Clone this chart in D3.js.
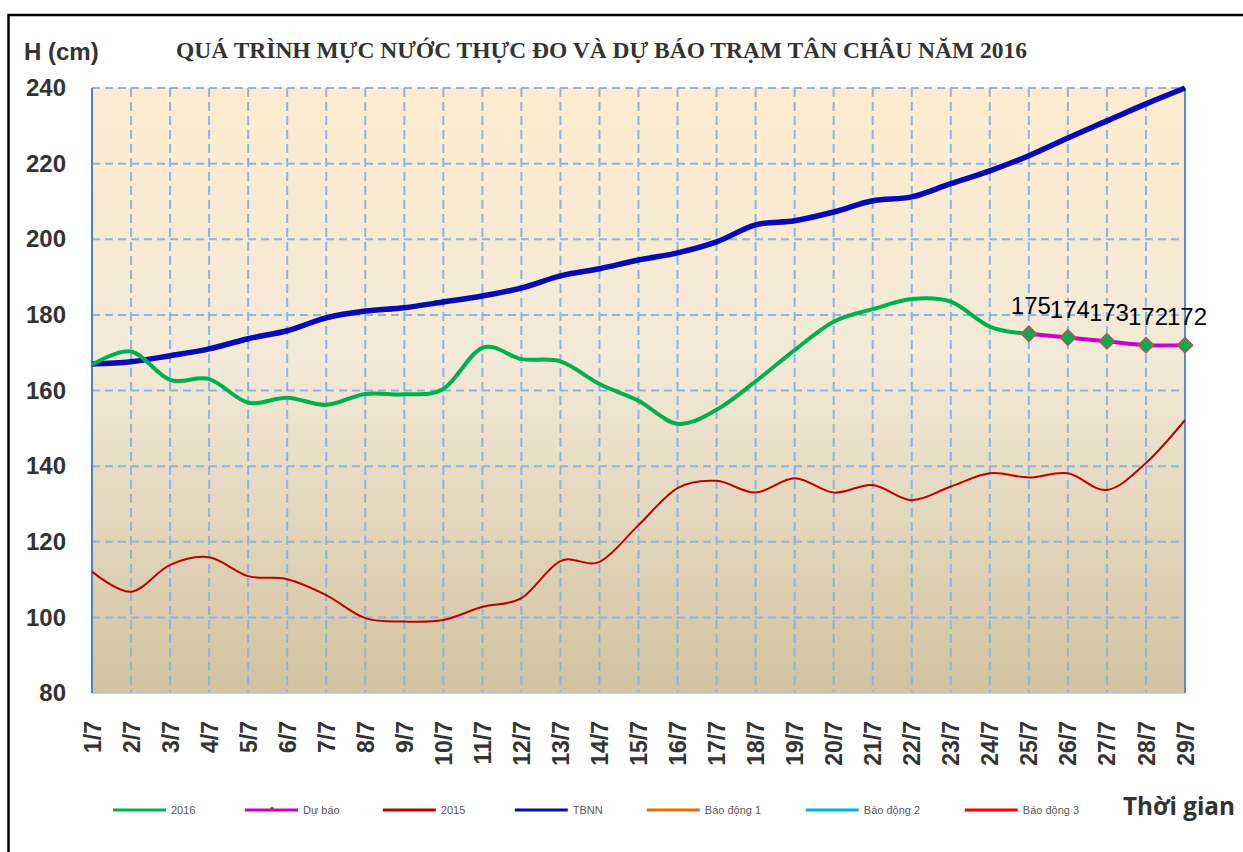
<!DOCTYPE html>
<html>
<head>
<meta charset="utf-8">
<script src="https://cdn.jsdelivr.net/npm/d3@7"></script>
<style>
  body { margin: 0; background: #fff; }
</style>
</head>
<body>
<svg width="1243" height="852"></svg>
<script>
// Days of July on the x axis
const dates = ['1/7','2/7','3/7','4/7','5/7','6/7','7/7','8/7','9/7','10/7','11/7','12/7','13/7','14/7','15/7',
  '16/7','17/7','18/7','19/7','20/7','21/7','22/7','23/7','24/7','25/7','26/7','27/7','28/7','29/7']

// Water level (cm)
const level2016 = [166.8, 170.3, 162.8, 163, 156.8, 158.1, 156.2, 159.1, 159, 160.4, 171.3, 168.3, 167.7, 161.7,
  157.3, 151.2, 154.9, 162.4, 170.7, 178.2, 181.5, 184.2, 183.5, 176.9, 175]
const forecastDates = ['25/7','26/7','27/7','28/7','29/7']
const forecast = [175, 174, 173, 172, 172]
const level2015 = [112.1, 106.8, 113.9, 115.9, 110.9, 110.1, 105.9, 99.8, 98.9, 99.3, 102.8, 105.1, 114.9, 114.7,
  124.4, 134.2, 136.1, 133, 136.8, 133, 135, 131, 134.6, 138.1, 137, 138.1, 133.7, 140.8, 152.2]
const tbnn = [167, 167.6, 169.2, 171, 173.7, 175.8, 179.2, 181, 181.9, 183.4, 185, 187.1, 190.3, 192.2, 194.5,
  196.4, 199.3, 203.8, 204.9, 207.2, 210.2, 211.2, 214.7, 218.1, 222.1, 226.8, 231.3, 235.8, 240]

const yTicks = [80, 100, 120, 140, 160, 180, 200, 220, 240]
const legendNames = ['2016', 'Dự báo', '2015', 'TBNN', 'Báo động 1', 'Báo động 2', 'Báo động 3']
const legendColors = ['#00b050', '#cc00cc', '#c00000', '#0a0ab4', '#e46c0a', '#00b0f0', '#ff0000']

const svg = d3.select('svg')
const width = +svg.attr('width')
const height = +svg.attr('height')

// plot area box
const plot = {left: 92, right: 1185, top: 88, bottom: 693}

const xScale = d3.scalePoint().domain(dates).range([plot.left, plot.right])
const yScale = d3.scaleLinear().domain([80, 240]).range([plot.bottom, plot.top])

// outer frame (runs off the right and bottom of the picture)
svg.append('rect')
  .attr('x', 8.5).attr('y', 15)
  .attr('width', width + 20).attr('height', height + 20)
  .attr('fill', 'none').attr('stroke', '#000').attr('stroke-width', 2.5)

// background gradient of the plot
const grad = svg.append('defs').append('linearGradient')
  .attr('id', 'bg').attr('x1', 0).attr('y1', 0).attr('x2', 0).attr('y2', 1)
grad.append('stop').attr('offset', 0).attr('stop-color', '#fdebcf')
grad.append('stop').attr('offset', 0.45).attr('stop-color', '#f2ead7')
grad.append('stop').attr('offset', 1).attr('stop-color', '#d2c29e')

svg.append('rect')
  .attr('x', plot.left).attr('y', plot.top)
  .attr('width', plot.right - plot.left).attr('height', plot.bottom - plot.top)
  .attr('fill', 'url(#bg)')

// dashed grid
const grid = svg.append('g').attr('stroke', '#8db4e2').attr('stroke-width', 2)
grid.selectAll('.hg').data(yTicks.filter(v => v > 80)).enter().append('line')
  .attr('x1', plot.left).attr('x2', plot.right)
  .attr('y1', d => yScale(d)).attr('y2', d => yScale(d))
  .attr('stroke-dasharray', '8,5')
grid.selectAll('.vg').data(dates.slice(1, -1)).enter().append('line')
  .attr('x1', d => xScale(d)).attr('x2', d => xScale(d))
  .attr('y1', plot.top).attr('y2', plot.bottom)
  .attr('stroke-dasharray', '9,5')

// plot borders
svg.append('line').attr('x1', plot.left).attr('x2', plot.right)
  .attr('y1', plot.bottom).attr('y2', plot.bottom)
  .attr('stroke', '#b4c3d8').attr('stroke-width', 1.5)
svg.append('line').attr('x1', plot.left).attr('x2', plot.left)
  .attr('y1', plot.top).attr('y2', plot.bottom)
  .attr('stroke', '#4f81bd').attr('stroke-width', 2)
svg.append('line').attr('x1', plot.right).attr('x2', plot.right)
  .attr('y1', plot.top).attr('y2', plot.bottom)
  .attr('stroke', '#5b8bd0').attr('stroke-width', 2)

// y axis labels
const yAxis = svg.append('g')
  .attr('transform', `translate(${plot.left},0)`)
  .call(d3.axisLeft(yScale).tickValues(yTicks).tickSize(0).tickPadding(26))
yAxis.select('.domain').remove()
yAxis.selectAll('text')
  .attr('font-family', 'Liberation Sans, Arial, sans-serif')
  .attr('font-weight', 'bold').attr('font-size', 24).attr('fill', '#333')

// x axis labels, turned upright
const xAxis = svg.append('g')
  .attr('transform', `translate(0,${plot.bottom})`)
  .call(d3.axisBottom(xScale).tickSize(0))
xAxis.select('.domain').remove()
xAxis.selectAll('text')
  .attr('transform', 'rotate(-90)')
  .attr('text-anchor', 'end')
  .attr('x', -28).attr('y', 0).attr('dy', '0.35em')
  .attr('font-family', 'Liberation Sans, Arial, sans-serif')
  .attr('font-weight', 'bold').attr('font-size', 23).attr('fill', '#333')

// smoothed lines like the spreadsheet chart
const line = d3.line()
  .x(d => xScale(d[0]))
  .y(d => yScale(d[1]))
  .curve(d3.curveCatmullRom.alpha(0))

const pairs = (keys, vals) => vals.map((v, i) => [keys[i], v])

svg.append('path').datum(pairs(dates, level2015))
  .attr('d', line).attr('fill', 'none').attr('stroke', '#c00000').attr('stroke-width', 2)
svg.append('path').datum(pairs(dates, tbnn))
  .attr('d', line).attr('fill', 'none').attr('stroke', '#0a0ab4').attr('stroke-width', 5.5)
svg.append('path').datum(pairs(dates, level2016))
  .attr('d', line).attr('fill', 'none').attr('stroke', '#00b050').attr('stroke-width', 4)
svg.append('path').datum(pairs(forecastDates, forecast))
  .attr('d', line).attr('fill', 'none').attr('stroke', '#cc00cc').attr('stroke-width', 4)

// forecast markers with value labels
const fc = pairs(forecastDates, forecast)
svg.selectAll('.mk').data(fc).enter().append('path')
  .attr('d', d3.symbol(d3.symbolDiamond2, 150))
  .attr('transform', d => `translate(${xScale(d[0])},${yScale(d[1])})`)
  .attr('fill', '#00b050').attr('stroke', '#c0504d').attr('stroke-width', 1.5)
svg.selectAll('.lb').data(fc).enter().append('text')
  .attr('x', d => xScale(d[0]) + 2)
  .attr('y', d => yScale(d[1]) - 20)
  .attr('text-anchor', 'middle')
  .attr('font-family', 'Liberation Sans, Arial, sans-serif')
  .attr('font-size', 24).attr('fill', '#000')
  .text(d => d[1])

// titles
svg.append('text')
  .attr('x', 24).attr('y', 60)
  .attr('font-family', 'Liberation Sans, Arial, sans-serif')
  .attr('font-weight', 'bold').attr('font-size', 24).attr('fill', '#333')
  .text('H (cm)')
svg.append('text')
  .attr('x', 176).attr('y', 58)
  .attr('font-family', 'Liberation Serif, Times New Roman, serif')
  .attr('font-weight', 'bold').attr('font-size', 23).attr('fill', '#333')
  .attr('textLength', 851).attr('lengthAdjust', 'spacingAndGlyphs')
  .text('QUÁ TRÌNH MỰC NƯỚC THỰC ĐO VÀ DỰ BÁO TRẠM TÂN CHÂU NĂM 2016')
svg.append('text')
  .attr('x', 1235).attr('y', 815)
  .attr('text-anchor', 'end')
  .attr('font-family', 'Open Sans, sans-serif')
  .attr('font-weight', 'bold').attr('font-size', 25).attr('fill', '#333')
  .attr('textLength', 112).attr('lengthAdjust', 'spacingAndGlyphs')
  .text('Thời gian')

// legend along the bottom, each slot sized from its label
let lx = 113
legendNames.forEach((name, i) => {
  const g = svg.append('g').attr('transform', `translate(${lx},810)`)
  g.append('line').attr('x1', 0).attr('x2', 53).attr('y1', 0).attr('y2', 0)
    .attr('stroke', legendColors[i]).attr('stroke-width', 3)
  if (name === 'Dự báo') {
    g.append('circle').attr('cx', 27).attr('cy', -1.5).attr('r', 1.8).attr('fill', '#a0403d')
  }
  g.append('text').attr('x', 58).attr('y', 4)
    .attr('font-family', 'Liberation Sans, Arial, sans-serif')
    .attr('font-size', 11).attr('fill', '#595959')
    .text(name)
  lx += 106 + Math.max(name.length * 5.3, 26)
})
</script>
</body>
</html>
